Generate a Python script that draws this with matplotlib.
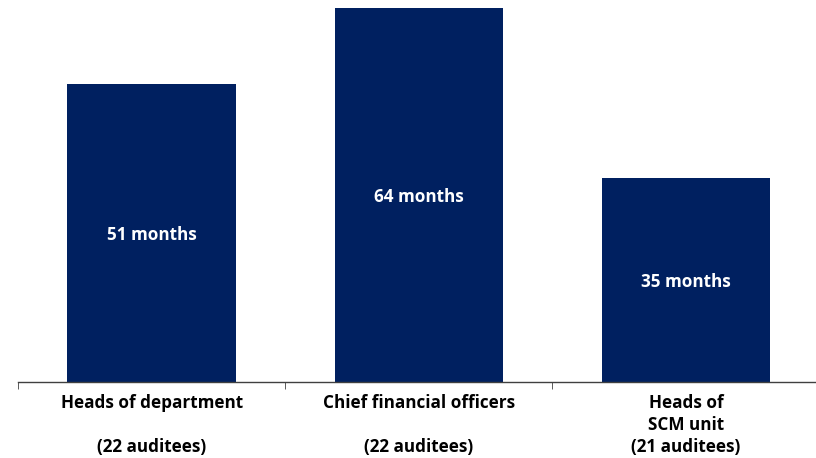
import matplotlib.pyplot as plt
import numpy as np

plt.rcParams['font.family'] = ['Open Sans', 'DejaVu Sans']

categories = ['Heads of department\n\n(22 auditees)',
              'Chief financial officers\n\n(22 auditees)',
              'Heads of\nSCM unit\n(21 auditees)']
months = [51, 64, 35]
bar_color = '#002060'

fig = plt.figure(figsize=(8.16, 4.58), dpi=100)
ax = fig.add_axes([18 / 816, 1 - 382 / 458, 801.5 / 816, 382 / 458])

x = np.arange(len(months))
bars = ax.bar(x, months, width=0.63, color=bar_color)

for xi, val in zip(x, months):
    ax.text(xi, val / 2, f'{val} months', ha='center', va='center_baseline',
            color='white', fontsize=12.3, fontweight='bold')

ax.set_xlim(-0.5, 2.5)
ax.set_ylim(0, 65.4)

for s in ['top', 'right', 'left']:
    ax.spines[s].set_visible(False)
ax.spines['bottom'].set_color('#404040')
ax.spines['bottom'].set_linewidth(1)

ax.set_yticks([])
ax.set_xticks(x)
ax.set_xticklabels(categories, fontsize=12.3, fontweight='bold', linespacing=1.28)
ax.tick_params(axis='x', which='major', length=0, pad=9)
ax.set_xticks([-0.5, 0.5, 1.5, 2.5], minor=True)
ax.tick_params(axis='x', which='minor', length=5, direction='out', color='#404040')

fig.savefig('out.png', dpi=100)
